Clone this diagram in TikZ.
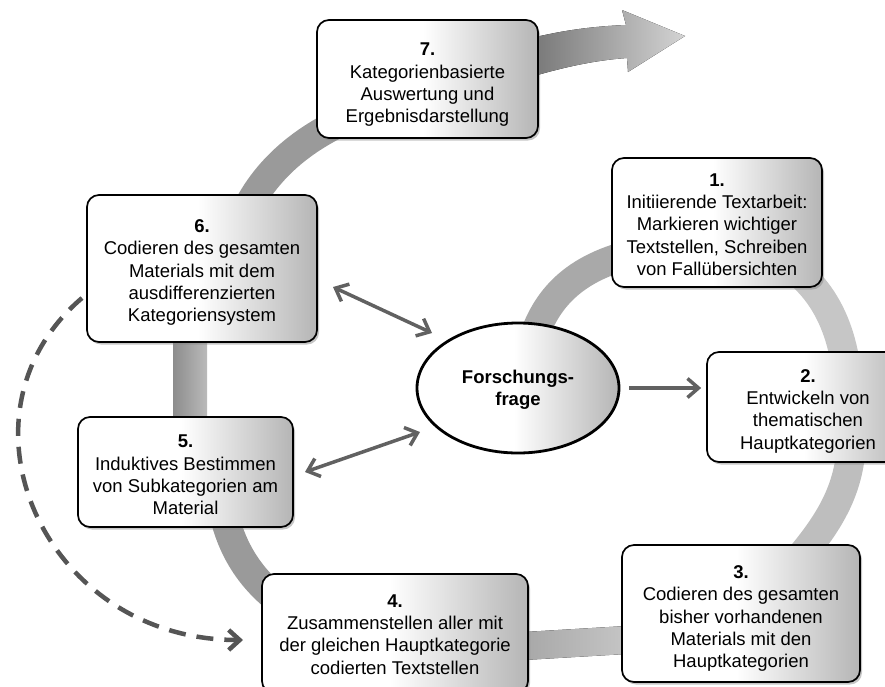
\documentclass[tikz,border=0pt]{standalone}
\usepackage{fontspec}
\setmainfont{Liberation Sans}
\usetikzlibrary{arrows.meta,shadows,shapes.geometric}
\pgfdeclarehorizontalshading{boxshade}{100bp}{color(0bp)=(white); color(49bp)=(white); color(75bp)=(black!29); color(100bp)=(black!29)}
\definecolor{conngray}{HTML}{616161}
\definecolor{dashgray}{HTML}{555555}
\definecolor{bandA}{HTML}{A9A9A9}
\definecolor{bandB}{HTML}{C6C6C6}
\definecolor{bandC}{HTML}{BEBEBE}
\definecolor{bandD}{HTML}{9A9A9A}
\begin{document}
\begin{tikzpicture}[x=1pt,y=-1pt,
  stepbox/.style={draw=black, line width=1.7pt, rounded corners=12pt, shading=boxshade,
    drop shadow={shadow xshift=2pt, shadow yshift=-2.5pt, opacity=0.45},
    inner sep=0pt},
  steptext/.style={inner sep=0pt, align=center, font=\fontsize{18.5}{22.3}\selectfont},
  band/.style={line width=29pt},
  conn/.style={draw=conngray, line width=3.5pt},
  tipb/.tip={Straight Barb[length=11pt,width=19pt]},
]
\useasboundingbox (0,0) rectangle (885,686);

% spiral band
\draw[band, bandA] (530,350) .. controls (545,290) and (585,262) .. (650,250);
\draw[band, bandB] (770,255) .. controls (815,275) and (845,320) .. (848,390);
\draw[band, bandC] (852,430) .. controls (852,490) and (830,525) .. (780,580);
\fill[left color=black!38, right color=black!19] (490,634) -- (660,624) -- (660,652) -- (490,662) -- cycle;
\draw[band, bandD] (300,615) .. controls (262,592) and (232,560) .. (222,505);
\fill[left color=black!45, right color=black!27] (173,330) rectangle (207,430);
\draw[band, bandD] (232,250) .. controls (245,195) and (280,150) .. (345,120);
\fill[left color=black!68, right color=black!17]
  (470,58) .. controls (525,36) and (575,27) .. (626,25) -- (622,10) -- (685,36)
  -- (628,72) -- (627,58) .. controls (585,61) and (540,72) .. (470,97) -- cycle;

% boxes
\node[stepbox, minimum width=221pt, minimum height=118pt] (b7) at (427.5,79) {};
\node[stepbox, minimum width=210pt, minimum height=129pt] (b1) at (717,222.5) {};
\node[stepbox, minimum width=230pt, minimum height=147pt] (b6) at (202,268.5) {};
\node[stepbox, minimum width=202pt, minimum height=110pt] (b2) at (808,407) {};
\node[stepbox, minimum width=215pt, minimum height=110pt] (b5) at (185.5,472) {};
\node[stepbox, minimum width=238pt, minimum height=137pt] (b3) at (741,613.5) {};
\node[stepbox, minimum width=266pt, minimum height=119pt] (b4) at (395,633.5) {};

\node[steptext] (t7) at ([yshift=-6pt]b7.center)
  {\textbf{7.}\\Kategorienbasierte\\Auswertung und\\Ergebnisdarstellung};
\node[steptext] (t1) at ([yshift=-2pt]b1.center)
  {\textbf{1.}\\Initiierende Textarbeit:\\Markieren wichtiger\\Textstellen, Schreiben\\von Fallübersichten};
\node[steptext] (t6) at ([yshift=-4pt]b6.center)
  {\textbf{6.}\\Codieren des gesamten\\Materials mit dem\\ausdifferenzierten\\Kategoriensystem};
\node[steptext] (t2) at ([yshift=-4pt]b2.center)
  {\textbf{2.}\\Entwickeln von\\thematischen\\Hauptkategorien};
\node[steptext] (t5) at ([yshift=-3pt]b5.center)
  {\textbf{5.}\\Induktives Bestimmen\\von Subkategorien am\\Material};
\node[steptext] (t3) at ([yshift=-5pt]b3.center)
  {\textbf{3.}\\Codieren des gesamten\\bisher vorhandenen\\Materials mit den\\Hauptkategorien};
\node[steptext] (t4) at ([yshift=-1pt]b4.center)
  {\textbf{4.}\\Zusammenstellen aller mit\\der gleichen Hauptkategorie\\codierten Textstellen};

% central ellipse
\node[ellipse, draw=black, line width=2.8pt, shading=boxshade, minimum width=202pt, minimum height=130pt,
  inner sep=0pt] (fq) at (518,388) {};
\node[steptext, font=\fontsize{18.5}{22.3}\selectfont\bfseries] (tq) at ([yshift=-2pt]fq.center)
  {Forschungs-\\frage};

% connectors
\coordinate (a6s) at (333,287);
\coordinate (a6e) at (432,333);
\coordinate (a5s) at (305,472);
\coordinate (a5e) at (420,432);
\draw[conn, {tipb}-{tipb}] (a6s) -- (a6e);
\draw[conn, {tipb}-{tipb}] (a5s) -- (a5e);
\draw[conn, -{tipb}, shorten <=9pt, shorten >=5pt] (fq.east) -- (fq.east -| b2.west);

% dashed return arrow
\coordinate (d0) at (82,298);
\coordinate (d1) at (243,640);
\draw[dashgray, line width=4.5pt, dash pattern=on 17pt off 11pt, -{Straight Barb[length=11pt,width=20pt]}]
  (d0) .. controls (-55,415) and (43,640) .. (d1);
\end{tikzpicture}
\end{document}
